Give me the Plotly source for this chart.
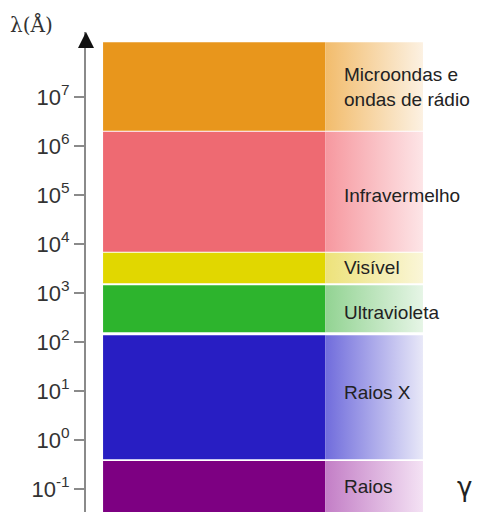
# Espectro eletromagnético — faixas de comprimento de onda (escala log)

import plotly.graph_objects as go

BANDS = ["Microondas e<br>ondas de rádio", "Infravermelho", "Visível", "Ultravioleta", "Raios X", "Raios"]
LOG_TOP = [8.12, 6.29, 3.82, 3.16, 2.14, -0.43]
LOG_BOTTOM = [6.31, 3.84, 3.20, 2.20, -0.39, -1.47]
LABEL_LOG = [7.21, 4.99, 3.52, 2.60, 0.98, -0.95]
SOLID = ["#E8961C", "#EE6A72", "#E1D700", "#2DB42D", "#281EC3", "#7D0082"]
FADE_START = ["#F2BC6C", "#F6989F", "#EDE27A", "#92D392", "#706CDC", "#C37EC6"]
FADE_END = ["#FCF1E2", "#FDE5E7", "#FAF6D8", "#E6F5E6", "#E8E8F8", "#F4E2F4"]
TICK_EXP = list(range(-1, 8))
TICK_TEXT = [f"10<sup>{k}</sup>" for k in TICK_EXP]

# posições horizontais (fração do eixo x)
X_LEFT, X_SOLID, X_FADE, X_TEXT = 0.041, 0.575, 0.81, 0.615

fig = go.Figure()
for i, name in enumerate(BANDS):
    lo, hi = 10 ** LOG_BOTTOM[i], 10 ** LOG_TOP[i]
    fig.add_trace(go.Scatter(
        x=[X_LEFT, X_SOLID, X_SOLID, X_LEFT, X_LEFT], y=[lo, lo, hi, hi, lo],
        fill="toself", fillcolor=SOLID[i], mode="lines", line=dict(width=0),
        hoverinfo="skip", showlegend=False,
    ))
    fig.add_trace(go.Scatter(
        x=[X_SOLID, X_FADE, X_FADE, X_SOLID, X_SOLID], y=[lo, lo, hi, hi, lo],
        fill="toself", mode="lines", line=dict(width=0),
        fillgradient=dict(type="horizontal", colorscale=[[0, FADE_START[i]], [1, FADE_END[i]]]),
        hoverinfo="skip", showlegend=False,
    ))
    # em eixo log, a anotação usa log10
    fig.add_annotation(x=X_TEXT, y=LABEL_LOG[i], xref="x", yref="y", text=name, showarrow=False,
                       xanchor="left", align="left",
                       font=dict(family="Liberation Sans, Arial", size=19, color="#222"))

fig.add_annotation(x=0.91, y=LABEL_LOG[5], xref="x", yref="y",
                   text="γ", showarrow=False,
                   font=dict(family="DejaVu Sans", size=26, color="#222"))
fig.add_annotation(x=-0.1875, y=1.046, xref="paper", yref="paper", text="λ(Å)", showarrow=False,
                   xanchor="left", yanchor="top",
                   font=dict(family="DejaVu Serif", size=20, color="#333"))
# flecha no topo do eixo
fig.add_annotation(x=0, y=1, xref="paper", yref="paper", ax=0, ay=16, text="",
                   showarrow=True, arrowhead=2, arrowsize=1.6, arrowwidth=2, arrowcolor="#111")

# a página tem 8px de margem no body: a figura é reduzida para caber na janela
fig.update_layout(
    width=494, height=504,
    margin=dict(l=78, r=0, t=24, b=0),
    plot_bgcolor="white", paper_bgcolor="white",
    xaxis=dict(range=[0, 1], visible=False),
    yaxis=dict(type="log", range=[-1.469, 8.327], automargin=False,
               showgrid=False, zeroline=False, showline=True, linecolor="#8a8a8a", linewidth=2,
               ticks="outside", ticklen=10, tickwidth=1.5, tickcolor="#8a8a8a",
               tickvals=[10 ** k for k in TICK_EXP], ticktext=TICK_TEXT,
               tickfont=dict(family="Liberation Sans, Arial", size=22, color="#333")),
)
fig.write_html("out.html")
